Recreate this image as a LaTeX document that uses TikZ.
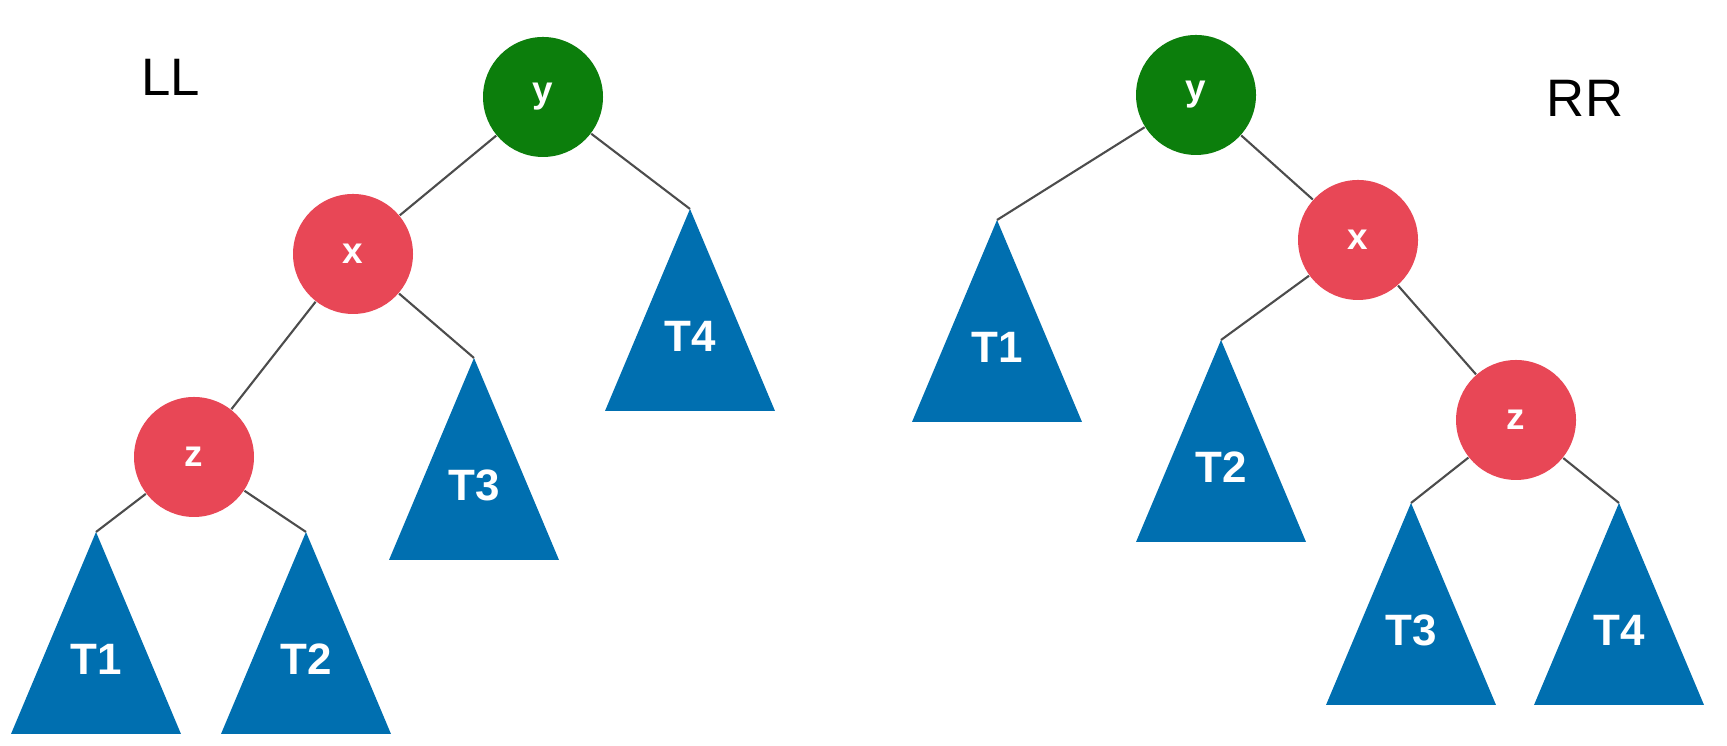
\documentclass[tikz,border=0pt]{standalone}
\usepackage{fontspec}
\setmainfont{Liberation Sans}
\definecolor{rootgreen}{RGB}{12,126,12}
\definecolor{nodered}{RGB}{232,71,86}
\definecolor{treeblue}{RGB}{0,111,176}

\newcommand{\subtree}[3]{%
  \coordinate (#1) at (#2);
  \fill[treeblue] (#1) -- ++(-0.85,-2.02) -- ++(1.7,0) -- cycle;
  \path (#1) ++(0,-1.27) node[tlabel] (#1-lbl) {#3};
}

\begin{document}
\begin{tikzpicture}[
    circ/.style={circle, minimum size=1.2cm, inner sep=0pt, text=white,
      font=\fontsize{10.5}{12}\selectfont\bfseries},
    root/.style={circ, fill=rootgreen},
    red/.style={circ, fill=nodered},
    tlabel/.style={text=white, inner sep=0pt, font=\fontsize{12.5}{14}\selectfont\bfseries},
    edge/.style={draw=black!70, line width=0.6pt}]
  \useasboundingbox (0,0) rectangle (17.27,7.46);

  \node[font=\fontsize{15}{17}\selectfont] (ll) at (1.71,6.69) {LL};
  \node[root] (ly) at (5.43,6.49) {y};
  \node[red] (lx) at (3.53,4.92) {x};
  \node[red] (lz) at (1.94,2.89) {z};
  \subtree{lt1}{0.96,2.14}{T1}
  \subtree{lt2}{3.06,2.14}{T2}
  \subtree{lt3}{4.74,3.88}{T3}
  \subtree{lt4}{6.90,5.37}{T4}

  \draw[edge] (ly) -- (lx);
  \draw[edge] (ly) -- (lt4);
  \draw[edge] (lx) -- (lz);
  \draw[edge] (lx) -- (lt3);
  \draw[edge] (lz) -- (lt1);
  \draw[edge] (lz) -- (lt2);

  \node[font=\fontsize{15}{17}\selectfont] (rr) at (15.85,6.48) {RR};
  \node[root] (ry) at (11.96,6.51) {y};
  \node[red] (rx) at (13.58,5.06) {x};
  \node[red] (rz) at (15.16,3.26) {z};
  \subtree{rt1}{9.97,5.26}{T1}
  \subtree{rt2}{12.21,4.06}{T2}
  \subtree{rt3}{14.11,2.43}{T3}
  \subtree{rt4}{16.19,2.43}{T4}

  \draw[edge] (ry) -- (rt1);
  \draw[edge] (ry) -- (rx);
  \draw[edge] (rx) -- (rt2);
  \draw[edge] (rx) -- (rz);
  \draw[edge] (rz) -- (rt3);
  \draw[edge] (rz) -- (rt4);
\end{tikzpicture}
\end{document}
